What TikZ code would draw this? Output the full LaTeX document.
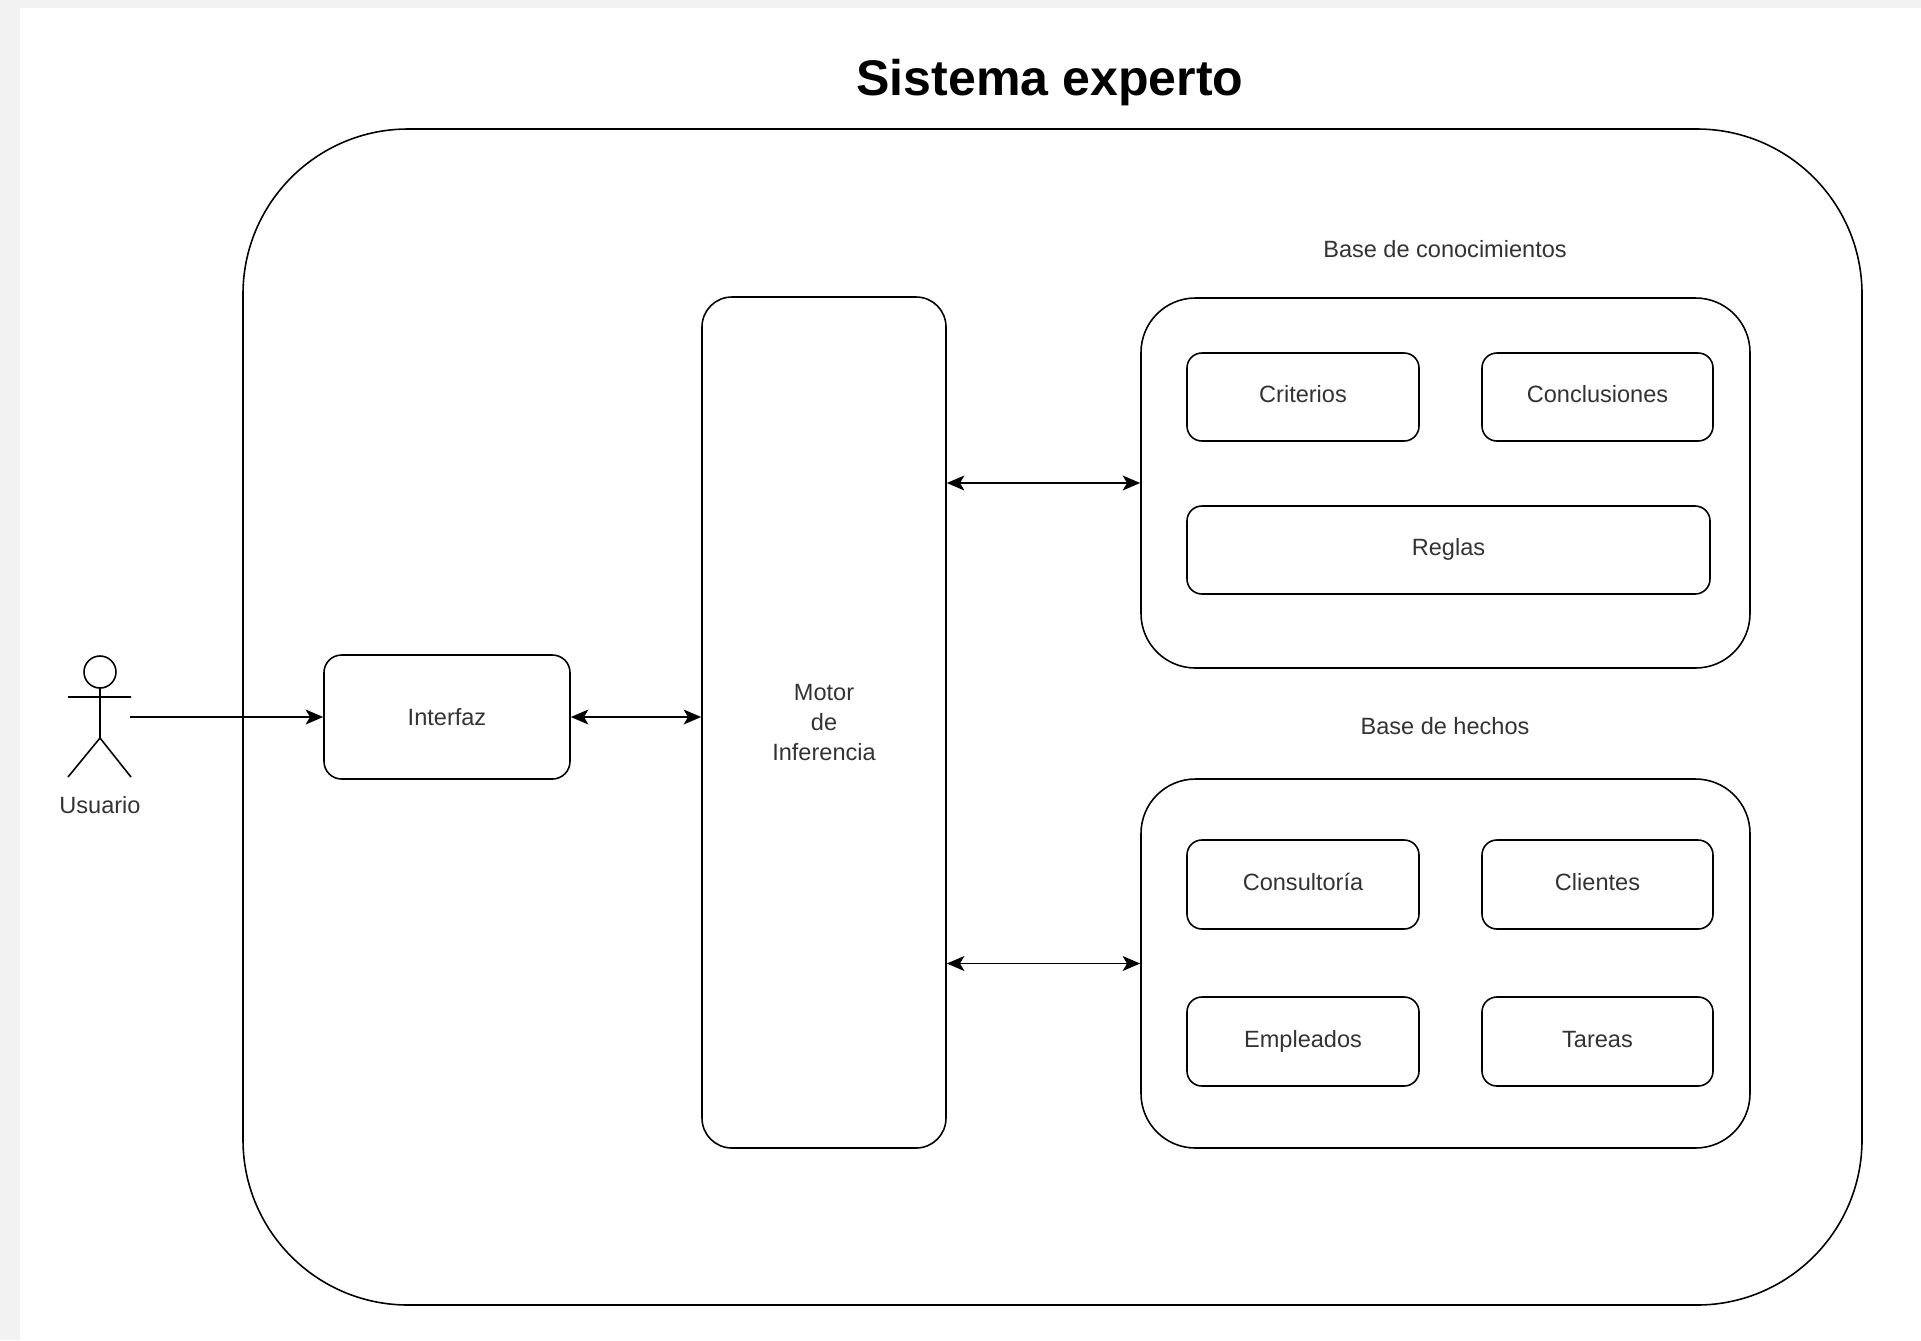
\documentclass[tikz,border=0pt]{standalone}
\usepackage{fontspec}
\setmainfont{Liberation Sans}
\usetikzlibrary{arrows.meta}
\def\u{0.02cm}
\tikzset{
  caja/.style={draw,line width=0.9pt,rounded corners=#1,inner sep=0pt,align=center,
    text=black!80,font=\fontsize{13.4}{16.8}\selectfont},
  modulo/.style={caja=8.5pt,text height=9.6pt,text depth=2.8pt},
  texto/.style={text=black!80,font=\fontsize{13.4}{16.8}\selectfont},
  flecha/.style={line width=0.9pt,-{Stealth[length=10pt,width=8.5pt,inset=2.5pt]}},
  flechas/.style={line width=0.9pt,{Stealth[length=10pt,width=8.5pt,inset=2.5pt]}-{Stealth[length=10pt,width=8.5pt,inset=2.5pt]}}
}

\begin{document}
\begin{tikzpicture}[x=\u,y=-\u]
        \fill[gray!10] (0,0) rectangle (1921,1340);
        \fill[white] (20,8) rectangle (1921,1340);
        \useasboundingbox (0,0) rectangle (1921,1340);
        \node[font=\bfseries\fontsize{28.5}{34}\selectfont] (titulo) at (1050,83) {Sistema experto};
        \node[caja=94pt,minimum width=1619*\u,minimum height=1176*\u] (sistema) at (1052.5,717) {};
        % actor
        \draw[line width=0.9pt] (100,672) circle (16);
        \draw[line width=0.9pt] (100,688)--(100,738) (68,697)--(131,697) (68,777)--(100,738)--(131,777);
        \coordinate (usuario) at (130,717);
        \node[texto] (usuariolbl) at (100,805) {Usuario};
        \node[caja=10pt,minimum width=246*\u,minimum height=124*\u] (interfaz) at (447,717) {Interfaz};
        \node[caja=17pt,minimum width=244*\u,minimum height=851*\u] (motor) at (824,722.5) {Motor\\de\\Inferencia};
        % base de conocimientos
        \node[texto] (kblbl) at (1445,249) {Base de conocimientos};
        \node[caja=31pt,minimum width=609*\u,minimum height=370*\u] (kb) at (1445.5,483) {};
        \node[modulo,minimum width=232*\u,minimum height=88*\u] (criterios) at (1303,397) {Criterios};
        \node[modulo,minimum width=231*\u,minimum height=88*\u] (conclusiones) at (1597.5,397) {Conclusiones};
        \node[modulo,minimum width=523*\u,minimum height=88*\u] (reglas) at (1448.5,550) {Reglas};
        % base de hechos
        \node[texto] (fblbl) at (1445,726) {Base de hechos};
        \node[caja=31pt,minimum width=609*\u,minimum height=369*\u] (fb) at (1445.5,963.5) {};
        \node[modulo,minimum width=232*\u,minimum height=89*\u] (consultoria) at (1303,884.5) {Consultoría};
        \node[modulo,minimum width=231*\u,minimum height=89*\u] (clientes) at (1597.5,884.5) {Clientes};
        \node[modulo,minimum width=232*\u,minimum height=89*\u] (empleados) at (1303,1041.5) {Empleados};
        \node[modulo,minimum width=231*\u,minimum height=89*\u] (tareas) at (1597.5,1041.5) {Tareas};
        % flechas
        \draw[flecha] (usuario)--(interfaz.west);
        \draw[flechas] (interfaz.east)--(interfaz.east-|motor.west);
        \draw[flechas] (kb.west-|motor.east)--(kb.west);
        \draw[flechas] (fb.west-|motor.east)--(fb.west);
    \end{tikzpicture}
\end{document}
